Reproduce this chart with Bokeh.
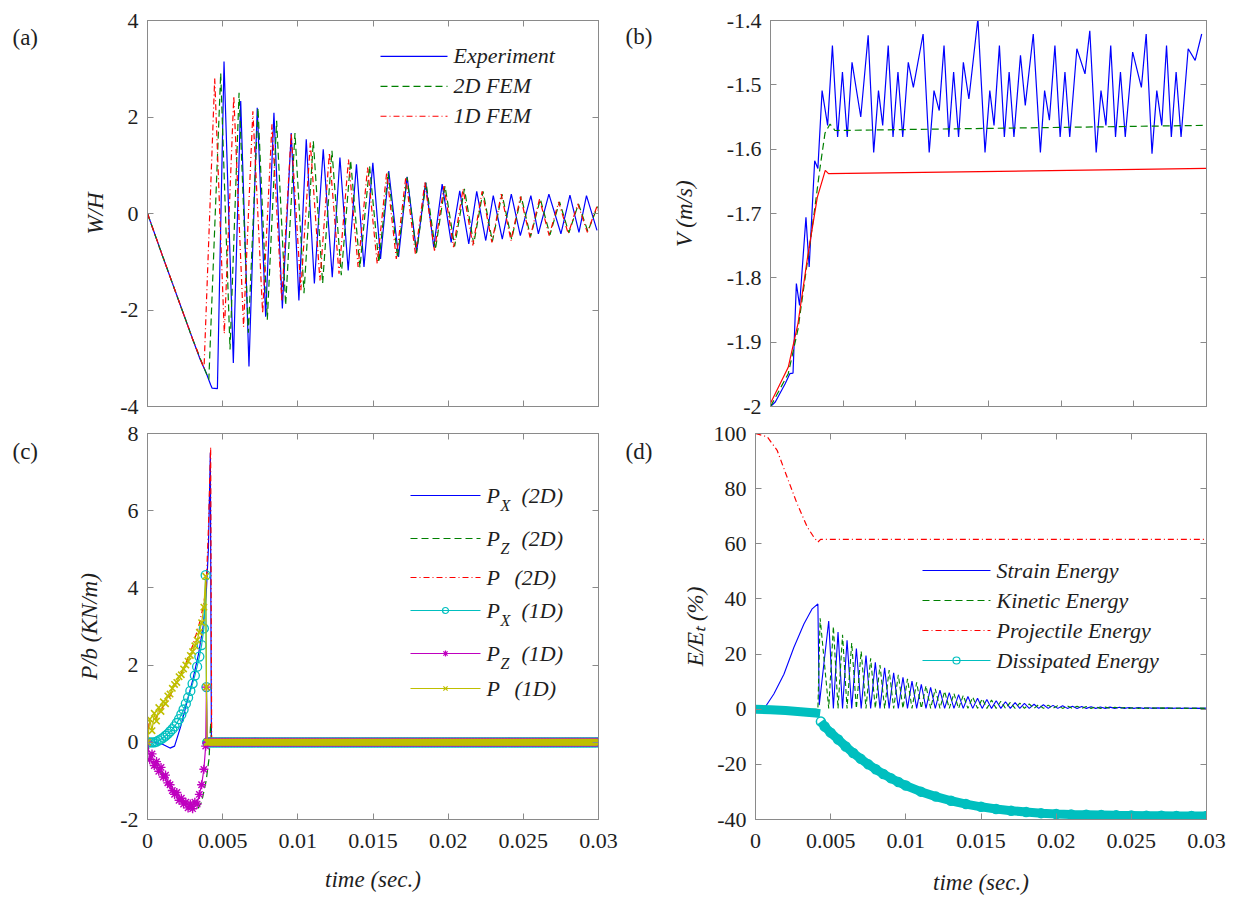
import numpy as np
from bokeh.plotting import figure
from bokeh.layouts import column, row
from bokeh.models import (Range1d, LinearAxis, Label, FixedTicker, CustomJSTickFormatter)
from bokeh.embed import file_html
from bokeh.resources import INLINE

# ======================= DATA (time in ms) =======================
time_ticks = [0, 0.005, 0.01, 0.015, 0.02, 0.025, 0.03]
a_yticks = [-4, -2, 0, 2, 4]
b_yticks = [-2, -1.9, -1.8, -1.7, -1.6, -1.5, -1.4]
c_yticks = [-2, 0, 2, 4, 6, 8]
d_yticks = [-40, -20, 0, 20, 40, 60, 80, 100]

# (a) W/H
a_exp_t = [0, 1.0, 2.0, 3.0, 3.5, 3.9, 4.2, 4.3, 4.65, 5.09, 5.71, 6.2, 6.75, 7.3, 7.86,
           8.41, 8.97, 9.56, 10.07, 10.56, 11.1, 11.69, 12.29, 12.8, 13.35, 13.9, 14.4,
           14.99, 15.5, 16.05, 16.7, 17.27, 17.9, 18.5, 19.04, 19.6, 20.2, 20.77, 21.37,
           21.9, 22.5, 23.0, 23.6, 24.2, 24.8, 25.5, 26.0, 26.7, 27.5, 28.1, 28.7, 29.2, 29.9]
a_exp_v = [0, -0.88, -1.74, -2.6, -3.02, -3.3, -3.55, -3.62, -3.63, 3.15, -3.1, 2.33, -3.17,
           2.19, -2.14, 2.09, -1.97, 1.67, -1.8, 1.54, -1.45, 1.33, -1.32, 1.16, -1.18, 1.02,
           -1.11, 1.05, -0.94, 0.88, -0.9, 0.76, -0.8, 0.64, -0.7, 0.61, -0.6, 0.47, -0.63,
           0.46, -0.56, 0.37, -0.53, 0.4, -0.46, 0.37, -0.42, 0.4, -0.42, 0.38, -0.39, 0.37, -0.35]

a_fem1_lead_t = [0, 1.0, 2.0, 3.0, 3.5, 3.76, 30.0]
a_fem1_lead_v = [0, -0.88, -1.74, -2.6, -3.0, -3.21, 0.05]
a_fem1_pk_t = [4.47, 5.74, 7.01, 8.28, 9.56, 10.83, 12.10, 13.37, 14.64, 15.91, 17.18, 18.45,
               19.72, 20.99, 22.26, 23.53, 24.81, 26.08, 27.35, 28.62, 29.89]
a_fem1_pk_v = [2.80, 2.43, 2.12, 1.85, 1.67, 1.47, 1.26, 1.12, 0.95, 0.85, 0.75, 0.64, 0.57,
               0.51, 0.46, 0.40, 0.35, 0.30, 0.24, 0.20, 0.14]
a_fem1_tr_t = [5.11, 6.39, 7.66, 8.93, 10.20, 11.47, 12.74, 14.01, 15.28, 16.55, 17.82, 19.09,
               20.36, 21.64, 22.91, 24.18, 25.45, 26.72, 27.99, 29.26]
a_fem1_tr_v = [-2.49, -2.35, -2.07, -1.80, -1.59, -1.39, -1.25, -1.11, -1.04, -0.94, -0.84,
               -0.77, -0.70, -0.66, -0.60, -0.56, -0.50, -0.46, -0.42, -0.39]

a_fem2_lead_t = [0, 1.0, 2.0, 3.0, 3.5, 4.08, 30.0]
a_fem2_lead_v = [0, -0.88, -1.74, -2.6, -3.0, -3.44, 0.1]
a_fem2_pk_t = [4.87, 6.09, 7.35, 8.59, 9.81, 11.03, 12.27, 13.51, 14.77, 16.01, 17.27, 18.53,
               19.79, 21.08, 22.32, 23.58, 24.86, 26.13, 27.41, 28.67, 29.93]
a_fem2_pk_v = [2.91, 2.50, 2.19, 1.92, 1.67, 1.50, 1.30, 1.10, 0.99, 0.85, 0.75, 0.64, 0.57,
               0.51, 0.46, 0.40, 0.35, 0.30, 0.24, 0.20, 0.14]
a_fem2_tr_t = [5.49, 6.71, 7.97, 9.19, 10.41, 11.65, 12.89, 14.13, 15.39, 16.63, 17.89, 19.15,
               20.43, 21.70, 22.94, 24.22, 25.48, 26.77, 28.03, 29.29]
a_fem2_tr_v = [-2.82, -2.47, -2.2, -1.9, -1.65, -1.45, -1.28, -1.12, -1.02, -0.92, -0.82, -0.75,
               -0.68, -0.63, -0.58, -0.53, -0.48, -0.44, -0.40, -0.37]

# (b) V (m/s)
b_exp_t = [0, 0.33, 1.00, 1.33, 1.55, 1.78, 2.00, 2.44, 2.66, 3.04, 3.26, 3.55, 3.93, 4.26,
           4.62, 4.95, 5.28, 5.61, 6.21, 6.72, 7.10, 7.43, 7.72, 8.10, 8.43, 8.77, 9.10, 9.48,
           9.83, 10.50, 10.92, 11.25, 11.61, 11.94, 12.27, 12.60, 12.94, 13.27, 13.65, 14.27,
           14.76, 15.09, 15.38, 15.75, 16.09, 16.42, 16.75, 17.20, 17.53, 18.08, 18.57, 18.86,
           19.19, 19.57, 19.93, 20.26, 20.59, 21.08, 21.64, 21.97, 22.41, 22.74, 23.08, 23.41,
           23.74, 24.08, 24.41, 24.92, 25.52, 25.85, 26.25, 26.58, 26.92, 27.25, 27.58, 27.91,
           28.25, 28.74, 29.22, 29.67]
b_exp_v = [-2.0, -1.993, -1.965, -1.949, -1.948, -1.809, -1.843, -1.706, -1.783, -1.618, -1.630,
           -1.509, -1.563, -1.439, -1.581, -1.480, -1.581, -1.465, -1.550, -1.423, -1.605,
           -1.509, -1.563, -1.439, -1.581, -1.480, -1.581, -1.465, -1.504, -1.421, -1.605,
           -1.509, -1.540, -1.439, -1.581, -1.480, -1.581, -1.465, -1.522, -1.397, -1.605,
           -1.509, -1.563, -1.439, -1.581, -1.480, -1.581, -1.454, -1.532, -1.421, -1.605,
           -1.509, -1.555, -1.439, -1.581, -1.480, -1.581, -1.444, -1.483, -1.416, -1.605,
           -1.509, -1.563, -1.439, -1.581, -1.480, -1.581, -1.449, -1.504, -1.421, -1.607,
           -1.509, -1.563, -1.439, -1.581, -1.480, -1.581, -1.444, -1.462, -1.421]
b_fem2_t = [0, 1.22, 1.89, 2.55, 3.0, 3.4, 3.75, 4.1, 4.44, 30]
b_fem2_v = [-2.0, -1.949, -1.88, -1.773, -1.70, -1.63, -1.575, -1.561, -1.571, -1.563]
b_fem1_t = [0, 1.22, 1.89, 2.55, 3.22, 3.77, 3.99, 30]
b_fem1_v = [-1.995, -1.939, -1.871, -1.768, -1.675, -1.633, -1.638, -1.630]

# (c) P/b (KN/m)
c_px2_t = [0, 0.5, 1.0, 1.5, 1.8, 2.2, 2.6, 3.0, 3.4, 3.7, 3.9, 4.05, 4.18, 4.25, 30]
c_px2_v = [0, 0, -0.05, -0.15, -0.1, 0.4, 1.0, 1.6, 2.3, 3.0, 3.8, 5.0, 7.5, 0, 0]
c_pz2_t = [0, 0.2, 0.6, 1.0, 1.5, 2.0, 2.5, 3.0, 3.3, 3.6, 3.9, 4.1, 4.2, 4.25, 30]
c_pz2_v = [0, -0.4, -0.6, -0.85, -1.1, -1.35, -1.55, -1.7, -1.75, -1.55, -1.0, -0.4, 0.5, 0, 0]
c_p2_t = [0, 0.1, 0.5, 1.0, 1.5, 2.0, 2.5, 3.0, 3.4, 3.7, 3.9, 4.05, 4.2, 4.27, 30]
c_p2_v = [0, 0.5, 0.6, 0.9, 1.2, 1.6, 2.0, 2.5, 3.0, 3.5, 4.0, 5.5, 7.65, 0, 0]
c_1d_t = [0, 0.15, 0.3, 0.45, 0.6, 0.75, 0.9, 1.05, 1.2, 1.35, 1.5, 1.65, 1.8, 1.95, 2.1,
          2.25, 2.4, 2.55, 2.7, 2.85, 3.0, 3.15, 3.3, 3.45, 3.6, 3.75, 3.87, 3.92, 3.97]
c_px1_v = [0, 0, 0, 0, 0.02, 0.05, 0.08, 0.12, 0.17, 0.22, 0.28, 0.34, 0.41, 0.5, 0.6, 0.72,
           0.85, 1.0, 1.16, 1.33, 1.52, 1.73, 1.96, 2.22, 2.52, 2.95, 4.33, 1.43, 0]
c_pz1_v = [0, -0.45, -0.3, -0.6, -0.5, -0.75, -0.65, -0.9, -0.85, -1.05, -1.1, -1.25, -1.35,
           -1.3, -1.5, -1.45, -1.6, -1.55, -1.7, -1.6, -1.72, -1.55, -1.6, -1.35, -1.1, -0.7,
           -0.1, 1.43, 0]
c_p1_v = [0, 0.6, 0.3, 0.75, 0.55, 0.9, 0.8, 1.05, 1.0, 1.2, 1.25, 1.4, 1.5, 1.55, 1.7, 1.75,
          1.9, 2.0, 2.1, 2.25, 2.35, 2.5, 2.65, 2.85, 3.1, 3.5, 4.3, 1.43, 0]
c_1d_tail_t = np.arange(4.0, 30.01, 0.1)      # after the impact all 1D forces read 0
c_1d_tail_v = np.zeros_like(c_1d_tail_t)

# (d) E/Et (%)
d_proj_t = [0, 0.78, 1.44, 2.1, 2.77, 3.44, 3.88, 4.15, 4.33, 30]
d_proj_v = [100, 98.8, 93.9, 84.2, 74.5, 66.1, 62.4, 60.6, 61.6, 61.6]
d_strain_lead_t = [0, 0.55, 1.22, 1.89, 2.55, 3.22, 3.77, 4.15, 4.24, 30]
d_strain_lead_v = [0, 0, 5.5, 12.7, 22.4, 30.9, 36.4, 38.2, 1.5, 0.2]
d_kin_lead_t = [0, 4.15, 4.3, 30]
d_kin_lead_v = [0, 0, 33.0, 0.3]
# strain-energy maxima (kinetic minima) and kinetic-energy maxima (strain minima)
d_sp_t = [4.87, 5.49, 6.09, 6.71, 7.35, 7.97, 8.59, 9.19, 9.81, 10.41, 11.03, 11.65, 12.27,
          12.89, 13.51, 14.13, 14.77, 15.39, 16.01, 16.63, 17.27, 17.89, 18.53, 19.15, 19.79,
          20.43, 21.08, 21.70, 22.32, 22.94, 23.58, 24.22, 24.86, 25.48, 26.13, 26.77, 27.41,
          28.03, 28.67, 29.29, 29.93]
d_sp_v = [32, 28, 25, 22, 19.5, 17, 15, 13.2, 11.6, 10.2, 9.0, 7.9, 6.9, 6.0, 5.3, 4.6, 4.0,
          3.5, 3.1, 2.7, 2.4, 2.1, 1.8, 1.6, 1.4, 1.25, 1.1, 1.0, 0.9, 0.8, 0.75, 0.7, 0.65,
          0.6, 0.55, 0.5, 0.5, 0.45, 0.45, 0.4, 0.4]
d_kp_t = [5.18, 5.79, 6.40, 7.03, 7.66, 8.28, 8.89, 9.50, 10.11, 10.72, 11.34, 11.96, 12.58,
          13.20, 13.82, 14.45, 15.08, 15.70, 16.32, 16.95, 17.58, 18.21, 18.84, 19.47, 20.11,
          20.75, 21.39, 22.01, 22.63, 23.26, 23.90, 24.54, 25.17, 25.80, 26.45, 27.09, 27.72,
          28.35, 28.98, 29.61]
d_kp_v = [30, 27, 24, 21, 18.5, 16, 14.2, 12.5, 11, 9.7, 8.5, 7.4, 6.5, 5.7, 5.0, 4.4, 3.8,
          3.3, 2.9, 2.5, 2.2, 1.9, 1.7, 1.5, 1.3, 1.15, 1.05, 0.95, 0.85, 0.75, 0.7, 0.65,
          0.6, 0.55, 0.5, 0.5, 0.45, 0.45, 0.4, 0.4]
d_low = 0.3     # residual level at the energy minima
d_dis_a_t = [0, 1, 2, 3, 4, 4.3]
d_dis_a_v = [0, -0.2, -0.5, -0.9, -1.4, -1.6]
d_dis_b_t = [4.35, 4.6, 5, 5.5, 6, 6.5, 7, 7.5, 8, 8.5, 9, 9.5, 10, 11, 12, 13, 14, 15, 16, 17,
             18, 19, 20, 21, 22, 23, 24, 25, 26, 27, 28, 29, 30]
d_dis_b_v = [-4.5, -6.3, -8.5, -11, -13.5, -15.9, -18, -20, -21.8, -23.5, -25, -26.4, -27.7,
             -29.9, -31.7, -33.2, -34.4, -35.4, -36.2, -36.8, -37.3, -37.7, -38, -38.2, -38.3,
             -38.4, -38.5, -38.55, -38.6, -38.65, -38.7, -38.7, -38.7]

# legend texts
a_legend = ["Experiment", "2D FEM", "1D FEM"]
c_legend_sub = ["X", "Z", "", "X", "Z", ""]
c_legend_tag = ["(2D)", "(2D)", "(2D)", "(1D)", "(1D)", "(1D)"]
d_legend = ["Strain Energy", "Kinetic Energy", "Projectile Energy", "Dissipated Energy"]

# ======================= helpers =======================
SERIF = "'Liberation Serif', 'Times New Roman', serif"
AXC = "#8a8a8a"
TXT = "#1e1e1e"
BLUE, GREEN, RED = "#0000FF", "#008000", "#FF0000"
CYAN, MAGENTA, OLIVE = "#00BFBF", "#BF00BF", "#BFBF00"
DASH, DASHDOT = "7 4", "6 3 1 3"


def sec(a):
    return np.asarray(a, dtype=float) / 1000.0


def merge(*pairs):
    t = np.concatenate([np.asarray(a, dtype=float) for a, _ in pairs])
    v = np.concatenate([np.asarray(b, dtype=float) for _, b in pairs])
    o = np.argsort(t, kind="stable")
    return t[o] / 1000.0, v[o]


def hide_labels(ax):
    ax.major_label_text_font_size = "0px"
    ax.major_label_text_color = None
    ax.major_label_standoff = 0


def panel(w, h, bl, br, bt, bb, yr, yticks, ylabel, xlabel, ylab_standoff, xlab_standoff=16):
    p = figure(width=w, height=h, x_range=Range1d(0, 0.03), y_range=Range1d(*yr),
               output_backend="svg", toolbar_location=None,
               min_border_left=bl, min_border_right=br, min_border_top=bt,
               min_border_bottom=bb)
    p.grid.visible = False
    p.add_layout(LinearAxis(), "above")
    p.add_layout(LinearAxis(), "right")
    p.xaxis.ticker = FixedTicker(ticks=time_ticks)
    p.yaxis.ticker = FixedTicker(ticks=yticks)
    for ax in p.axis:
        ax.formatter = CustomJSTickFormatter(code="return String(Number(tick.toFixed(4)));")
        ax.major_tick_in = 6
        ax.major_tick_out = 0
        ax.minor_tick_line_color = None
        ax.axis_line_color = AXC
        ax.major_tick_line_color = AXC
        ax.major_label_text_font = SERIF
        ax.major_label_text_font_size = "22px"
        ax.major_label_text_color = TXT
        ax.major_label_standoff = 9
        ax.axis_label_text_font = SERIF
        ax.axis_label_text_font_style = "italic"
        ax.axis_label_text_font_size = "23px"
        ax.axis_label_text_color = TXT
    for ax in list(p.above) + list(p.right):
        hide_labels(ax)
    if xlabel is None:
        hide_labels(p.below[0])
    else:
        p.below[0].axis_label = xlabel
        p.below[0].major_label_standoff = 14
        p.below[0].axis_label_standoff = xlab_standoff
    p.left[0].axis_label = ylabel
    p.left[0].axis_label_standoff = ylab_standoff
    p.outline_line_color = AXC
    # pixel ranges of the frame, used only for the legend samples
    fw = w - bl - br
    fh = h - bt - bb
    p.extra_x_ranges = {"px": Range1d(0, fw)}
    p.extra_y_ranges = {"py": Range1d(0, fh)}
    return p


def tag_fig(h, tag, x, y):
    t = figure(width=50, height=h, x_range=Range1d(0, 50), y_range=Range1d(0, h),
               output_backend="svg", toolbar_location=None, min_border=0,
               x_axis_location=None, y_axis_location=None)
    t.grid.visible = False
    t.outline_line_color = None
    t.add_layout(Label(x=x, y=y, text=tag, text_font=SERIF, text_font_size="23px",
                       text_color=TXT, text_baseline="middle"))
    return t


def legend_row(p, x0, x1, y, color, dash, marker=None, msize=7, label=None, size="22px"):
    """one legend entry; x0, x1, y are pixels inside the frame (y from the bottom)"""
    kw = dict(x_range_name="px", y_range_name="py")
    p.line([x0, x1], [y, y], line_color=color, line_width=1.2,
           line_dash=dash if dash else "solid", **kw)
    if marker:
        p.scatter([(x0 + x1) / 2], [y], marker=marker, size=msize, line_color=color,
                  fill_color=None if marker == "circle" else color, line_width=1.2, **kw)
    if label:
        p.add_layout(Label(x=x1 + 6, y=y, x_units="screen", y_units="screen", text=label,
                           text_font=SERIF, text_font_style="italic", text_font_size=size,
                           text_color=TXT, text_baseline="middle"))


# ======================= (a) =======================
pa = panel(568, 420, 97, 20, 20, 13, (-4, 4), a_yticks, "W/H", None, 9)
pa.line(sec(a_exp_t), a_exp_v, line_color=BLUE, line_width=1.2)
t2, v2 = merge((a_fem2_lead_t, a_fem2_lead_v), (a_fem2_pk_t, a_fem2_pk_v), (a_fem2_tr_t, a_fem2_tr_v))
pa.line(t2, v2, line_color=GREEN, line_width=1.2, line_dash=DASH)
t1, v1 = merge((a_fem1_lead_t, a_fem1_lead_v), (a_fem1_pk_t, a_fem1_pk_v), (a_fem1_tr_t, a_fem1_tr_v))
pa.line(t1, v1, line_color=RED, line_width=1.2, line_dash=DASHDOT)
for i, (lab, col, dsh) in enumerate(zip(a_legend, [BLUE, GREEN, RED], [None, DASH, DASHDOT])):
    legend_row(pa, 233, 300, 351 - 30 * i, col, dsh, label=lab)

# ======================= (b) =======================
pb = panel(568, 420, 87, 30, 20, 14, (-2, -1.4), b_yticks, "V (m/s)", None, 27)
pb.line(sec(b_exp_t), b_exp_v, line_color=BLUE, line_width=1.2)
pb.line(sec(b_fem2_t), b_fem2_v, line_color=GREEN, line_width=1.2, line_dash=DASH)
pb.line(sec(b_fem1_t), b_fem1_v, line_color=RED, line_width=1.2)

# ======================= (c) =======================
pc = panel(568, 481, 97, 20, 13, 82, (-2, 8), c_yticks, "P/b (KN/m)", "time (sec.)", 15)
pc.line(sec(c_px2_t), c_px2_v, line_color=BLUE, line_width=1.2)
pc.line(sec(c_pz2_t), c_pz2_v, line_color=GREEN, line_width=1.2, line_dash=DASH)
pc.line(sec(c_p2_t), c_p2_v, line_color=RED, line_width=1.2, line_dash=DASHDOT)
tt = np.concatenate([sec(c_1d_t), sec(c_1d_tail_t)])
vx1 = np.concatenate([c_px1_v, c_1d_tail_v])
vz1 = np.concatenate([c_pz1_v, c_1d_tail_v])
vp1 = np.concatenate([c_p1_v, c_1d_tail_v])
pc.line(tt, vx1, line_color=CYAN, line_width=1.2)
pc.scatter(tt, vx1, marker="circle", size=9, line_color=CYAN, fill_color=None, line_width=1.3)
pc.line(tt, vz1, line_color=MAGENTA, line_width=1.2)
pc.scatter(tt, vz1, marker="asterisk", size=9, line_color=MAGENTA, line_width=1.4)
pc.line(tt, vp1, line_color=OLIVE, line_width=1.2)
pc.scatter(tt, vp1, marker="x", size=9, line_color=OLIVE, line_width=1.6)
c_cols = [BLUE, GREEN, RED, CYAN, MAGENTA, OLIVE]
c_dash = [None, DASH, DASHDOT, None, None, None]
c_mark = [None, None, None, "circle", "asterisk", "x"]
c_rows = [324, 281, 242, 209, 166, 131]
for i in range(6):
    legend_row(pc, 263, 333, c_rows[i], c_cols[i], c_dash[i], marker=c_mark[i], msize=6,
               label="P")
    if c_legend_sub[i]:
        pc.add_layout(Label(x=353, y=c_rows[i] - 10, x_units="screen", y_units="screen",
                            text=c_legend_sub[i], text_font=SERIF, text_font_style="italic",
                            text_font_size="16px", text_color=TXT, text_baseline="middle"))
    pc.add_layout(Label(x=374 if c_legend_sub[i] else 367, y=c_rows[i], x_units="screen",
                        y_units="screen", text=c_legend_tag[i], text_font=SERIF,
                        text_font_style="italic", text_font_size="22px", text_color=TXT,
                        text_baseline="middle"))

# ======================= (d) =======================
pd_ = panel(568, 481, 87, 30, 13, 82, (-40, 100), d_yticks, "E/E\u209c (%)", "time (sec.)", 3, 19)
ts, vs = merge((d_strain_lead_t, d_strain_lead_v), (d_sp_t, d_sp_v),
               (d_kp_t, [d_low] * len(d_kp_t)))
pd_.line(ts, vs, line_color=BLUE, line_width=1.1)
tk, vk = merge((d_kin_lead_t, d_kin_lead_v), (d_kp_t, d_kp_v),
               (d_sp_t, [d_low] * len(d_sp_t)))
pd_.line(tk, vk, line_color=GREEN, line_width=1.1, line_dash="5 3")
pd_.line(sec(d_proj_t), d_proj_v, line_color=RED, line_width=1.2, line_dash=DASHDOT)
for tseg, vseg in ((d_dis_a_t, d_dis_a_v), (d_dis_b_t, d_dis_b_v)):
    pd_.line(sec(tseg), vseg, line_color=CYAN, line_width=9)
pd_.scatter(sec(d_dis_b_t), d_dis_b_v, marker="circle", size=9, line_color=CYAN,
            fill_color=None, line_width=1.5)
d_cols = [BLUE, GREEN, RED, CYAN]
d_dash = [None, DASH, DASHDOT, None]
d_mark = [None, None, None, "circle"]
for i in range(4):
    legend_row(pd_, 167, 235, 249 - 30 * i, d_cols[i], d_dash[i], marker=d_mark[i], msize=7,
               label=d_legend[i])

ta = tag_fig(420, "(a)", 12, 401)
tb = tag_fig(420, "(b)", 7, 403)
tc = tag_fig(481, "(c)", 12, 459)
td = tag_fig(481, "(d)", 7, 459)

layout = column(row(ta, pa, tb, pb), row(tc, pc, td, pd_))
open("out.html", "w").write(file_html(layout, INLINE))
